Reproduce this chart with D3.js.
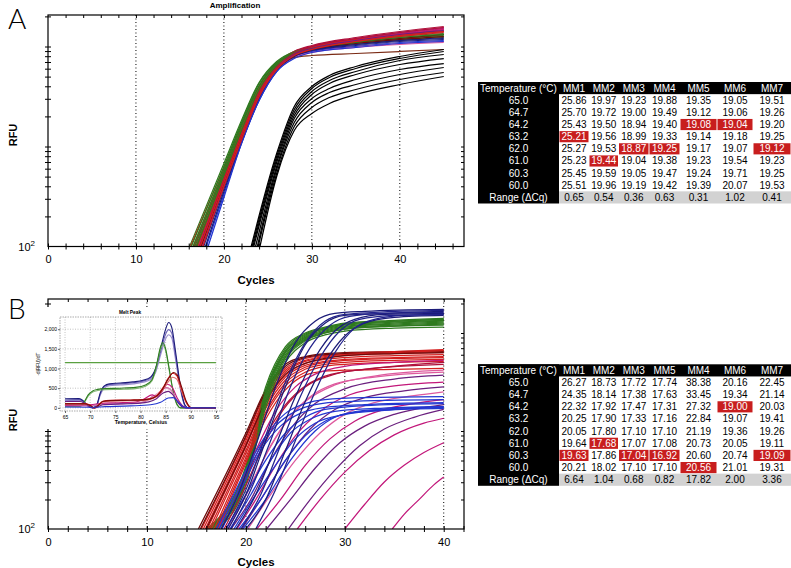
<!DOCTYPE html>
<html><head><meta charset="utf-8">
<script src="https://cdn.jsdelivr.net/npm/d3@7"></script>
<style>body{margin:0;background:#fff;} svg{display:block;font-family:"Liberation Sans",Arial,sans-serif;}</style>
</head><body><svg id="c" width="791" height="568"></svg>
<script>
// ---------- DATA ----------
const xTickLabels = [0, 10, 20, 30, 40];
const tempLabels = ["65.0","64.7","64.2","63.2","62.0","61.0","60.3","60.0"];
const headerA = ["MM1","MM2","MM3","MM4","MM5","MM6","MM7"];
const cqA = [
  [25.86,19.97,19.23,19.88,19.35,19.05,19.51],
  [25.70,19.72,19.00,19.49,19.12,19.06,19.26],
  [25.43,19.50,18.94,19.40,19.08,19.04,19.20],
  [25.21,19.56,18.99,19.33,19.14,19.18,19.25],
  [25.27,19.53,18.87,19.25,19.17,19.07,19.12],
  [25.23,19.44,19.04,19.38,19.23,19.54,19.23],
  [25.45,19.59,19.05,19.47,19.24,19.71,19.25],
  [25.51,19.96,19.19,19.42,19.39,20.07,19.53]];
const rangeA = ["0.65","0.54","0.36","0.63","0.31","1.02","0.41"];
const headerB = ["MM1","MM2","MM3","MM5","MM4","MM6","MM7"];
const cqB = [
  [26.27,18.73,17.72,17.74,38.38,20.16,22.45],
  [24.35,18.14,17.38,17.63,33.45,19.34,21.14],
  [22.32,17.92,17.47,17.31,27.32,19.00,20.03],
  [20.25,17.90,17.33,17.16,22.84,19.07,19.41],
  [20.05,17.80,17.10,17.10,21.19,19.36,19.26],
  [19.64,17.68,17.07,17.08,20.73,20.05,19.11],
  [19.63,17.86,17.04,16.92,20.60,20.74,19.09],
  [20.21,18.02,17.10,17.10,20.56,21.01,19.31]];
const rangeB = ["6.64","1.04","0.68","0.82","17.82","2.00","3.36"];

// Panel A curves: start cycle s (at 10^2), log10(RFU) at gridA cycles
const gridA = [20,22,24,26,28,30,35,40,45];
const curvesA = [
 {c:"green", s:16.1, v:[2.83,3.26,3.64,3.85,3.95,3.99,4.04,4.08,4.11]},
 {c:"red", s:16.2, v:[2.79,3.22,3.60,3.82,3.95,4.00,4.07,4.12,4.16]},
 {c:"navy", s:17.4, v:[2.62,3.08,3.50,3.77,3.91,3.97,4.02,4.06,4.09]},
 {c:"green", s:16.3, v:[2.80,3.24,3.63,3.84,3.95,3.99,4.05,4.09,4.12]},
 {c:"crimson", s:16.6, v:[2.73,3.17,3.57,3.81,3.95,4.01,4.09,4.15,4.20]},
 {c:"pink", s:17.1, v:[2.66,3.10,3.52,3.77,3.90,3.95,4.00,4.03,4.05]},
 {c:"red", s:16.5, v:[2.75,3.18,3.58,3.81,3.94,4.00,4.06,4.11,4.15]},
 {c:"blue", s:18.0, v:[2.52,3.03,3.46,3.75,3.89,3.95,4.00,4.04,4.06]},
 {c:"green", s:16.5, v:[2.77,3.22,3.61,3.83,3.94,3.98,4.03,4.07,4.10]},
 {c:"purple", s:17.2, v:[2.64,3.09,3.52,3.78,3.92,3.98,4.07,4.13,4.18]},
 {c:"darkred", s:16.9, v:[2.69,3.12,3.53,3.78,3.92,3.97,4.03,4.07,4.10]},
 {c:"magenta", s:17.0, v:[2.67,3.12,3.54,3.79,3.93,3.99,4.07,4.13,4.18]},
 {c:"navy", s:17.7, v:[2.58,3.05,3.48,3.76,3.90,3.96,4.02,4.06,4.08]},
 {c:"red", s:16.8, v:[2.71,3.15,3.56,3.80,3.93,3.99,4.06,4.11,4.15]},
 {c:"crimson", s:16.9, v:[2.70,3.14,3.55,3.80,3.94,4.00,4.08,4.14,4.19]},
 {c:"green", s:16.7, v:[2.74,3.20,3.60,3.83,3.94,3.99,4.05,4.10,4.13]},
 {c:"pink", s:17.5, v:[2.61,3.07,3.50,3.76,3.89,3.94,3.99,4.02,4.04]},
 {c:"brown", s:17.3, v:[2.64,3.09,3.52,3.78,3.89,3.91,3.93,3.95,3.97]},
 {c:"red", s:17.0, v:[2.68,3.13,3.54,3.79,3.93,3.99,4.07,4.12,4.17]},
 {c:"navy", s:17.9, v:[2.55,3.04,3.47,3.76,3.90,3.96,4.01,4.05,4.07]},
 {c:"magenta", s:17.4, v:[2.62,3.08,3.51,3.78,3.92,3.98,4.06,4.12,4.17]},
 {c:"darkred", s:17.4, v:[2.63,3.08,3.50,3.77,3.91,3.97,4.04,4.08,4.12]},
 {c:"green", s:16.9, v:[2.71,3.16,3.57,3.81,3.93,3.98,4.04,4.09,4.12]},
 {c:"crimson", s:17.2, v:[2.66,3.11,3.53,3.79,3.93,4.00,4.08,4.14,4.19]},
 {c:"blue", s:18.2, v:[2.49,3.03,3.46,3.75,3.88,3.94,3.99,4.03,4.05]},
 {c:"red", s:17.3, v:[2.64,3.10,3.52,3.78,3.92,3.98,4.05,4.10,4.14]},
 {c:"purple", s:17.6, v:[2.60,3.06,3.50,3.77,3.92,3.98,4.06,4.12,4.16]},
 {c:"red", s:17.6, v:[2.60,3.07,3.50,3.77,3.91,3.97,4.05,4.11,4.15]}
];
const gridABlack = [26,28,30,32,35,40,45];
const curvesABlack = [
 {c:"black", s:23.1, v:[2.93,3.40,3.60,3.71,3.80,3.90,3.97]},
 {c:"black", s:23.2, v:[2.90,3.37,3.58,3.69,3.78,3.88,3.95]},
 {c:"black", s:23.3, v:[2.87,3.34,3.55,3.66,3.75,3.86,3.92]},
 {c:"black", s:23.4, v:[2.84,3.31,3.52,3.63,3.72,3.82,3.88]},
 {c:"black", s:23.6, v:[2.80,3.28,3.48,3.58,3.67,3.77,3.83]},
 {c:"black", s:23.8, v:[2.77,3.24,3.44,3.54,3.62,3.72,3.79]},
 {c:"black", s:23.9, v:[2.73,3.20,3.39,3.49,3.57,3.67,3.74]},
 {c:"black", s:24.1, v:[2.70,3.16,3.33,3.43,3.52,3.62,3.70]}
];

// Panel B curves
const gridB = [20,22,24,26,28,30,35,40];
const curvesBGreenRed = [
 {c:"darkred", s:15.2, v:[2.98,3.42,3.68,3.76,3.79,3.80,3.81,3.82]},
 {c:"green", s:16.0, v:[2.64,3.45,3.86,4.00,4.06,4.10,4.13,4.15]},
 {c:"red", s:15.5, v:[2.93,3.38,3.64,3.74,3.77,3.79,3.81,3.83]},
 {c:"green", s:16.2, v:[2.62,3.42,3.84,3.99,4.05,4.09,4.12,4.14]},
 {c:"darkred", s:15.4, v:[2.95,3.40,3.66,3.75,3.78,3.79,3.80,3.81]},
 {c:"red", s:15.7, v:[2.90,3.35,3.62,3.72,3.76,3.78,3.80,3.82]},
 {c:"green", s:16.3, v:[2.60,3.40,3.82,3.98,4.04,4.08,4.11,4.13]},
 {c:"red", s:15.9, v:[2.87,3.32,3.60,3.71,3.75,3.77,3.79,3.80]},
 {c:"green", s:16.4, v:[2.59,3.39,3.81,3.97,4.05,4.09,4.12,4.14]},
 {c:"red", s:16.1, v:[2.84,3.29,3.57,3.69,3.73,3.75,3.77,3.78]},
 {c:"green", s:16.5, v:[2.57,3.37,3.80,3.96,4.03,4.07,4.10,4.12]},
 {c:"darkred", s:16.0, v:[2.85,3.30,3.58,3.69,3.74,3.77,3.79,3.80]},
 {c:"red", s:16.3, v:[2.80,3.26,3.55,3.67,3.71,3.73,3.75,3.76]},
 {c:"green", s:16.6, v:[2.55,3.35,3.78,3.95,4.02,4.06,4.09,4.11]},
 {c:"red", s:16.5, v:[2.77,3.23,3.52,3.65,3.70,3.72,3.74,3.75]},
 {c:"green", s:16.8, v:[2.52,3.32,3.76,3.94,4.01,4.05,4.08,4.10]},
 {c:"red", s:16.8, v:[2.73,3.19,3.49,3.63,3.68,3.70,3.72,3.73]},
 {c:"green", s:16.9, v:[2.50,3.30,3.75,3.93,4.00,4.04,4.07,4.09]},
 {c:"red", s:17.0, v:[2.70,3.16,3.46,3.60,3.66,3.68,3.70,3.71]},
 {c:"green", s:17.0, v:[2.49,3.28,3.73,3.92,4.00,4.04,4.07,4.08]},
 {c:"red", s:17.2, v:[2.67,3.12,3.42,3.57,3.61,3.62,3.63,3.64]},
 {c:"green", s:17.2, v:[2.45,3.24,3.70,3.90,3.98,4.02,4.05,4.06]}
];
// Explicit [cycle, log10 RFU] points
const curvesBNavy = [
 [[17.5,2],[19,2.3],[21,2.85],[23,3.45],[25,3.9],[27,4.12],[29,4.2],[32,4.22],[40,4.24]],
 [[18,2],[20,2.4],[22,2.95],[24,3.5],[26,3.9],[28,4.12],[30,4.19],[33,4.21],[40,4.23]],
 [[18.2,2],[20,2.35],[22,2.9],[24,3.45],[26,3.88],[28,4.1],[30,4.18],[34,4.2],[40,4.22]],
 [[18.5,2],[20.5,2.4],[22.5,2.9],[24.5,3.45],[26.5,3.85],[28.5,4.08],[30.5,4.17],[34,4.2],[40,4.21]],
 [[19,2],[21,2.35],[23,2.85],[25,3.35],[27,3.75],[29,4.02],[31,4.14],[34,4.19],[40,4.2]],
 [[19.5,2],[21.5,2.35],[23.5,2.85],[25.5,3.35],[27.5,3.75],[29.5,4.02],[31.5,4.14],[35,4.18],[40,4.19]],
 [[20,2],[22,2.3],[24,2.8],[26,3.3],[28,3.7],[30,3.97],[32,4.1],[35,4.16],[40,4.18]],
 [[21,2],[23,2.4],[25,2.9],[27,3.4],[29,3.8],[31,4.05],[33,4.14],[36,4.18],[40,4.19]]
];
const curvesBBlue = [
 [[17,2],[18.5,2.3],[20,2.6],[22,2.95],[24,3.18],[26,3.28],[28,3.32],[32,3.34],[40,3.35]],
 [[17.3,2],[19,2.35],[21,2.75],[23,3.05],[25,3.2],[27,3.27],[30,3.3],[40,3.32]],
 [[17.6,2],[19.5,2.4],[21.5,2.8],[23.5,3.05],[25.5,3.18],[28,3.24],[32,3.27],[40,3.29]],
 [[18,2],[20,2.35],[22,2.7],[24,2.98],[26,3.14],[28,3.22],[32,3.26],[40,3.28]],
 [[18.4,2],[20.5,2.35],[22.5,2.7],[24.5,2.98],[26.5,3.12],[29,3.2],[33,3.23],[40,3.25]],
 [[18.8,2],[21,2.35],[23,2.65],[25,2.92],[27,3.08],[30,3.17],[34,3.21],[40,3.23]],
 [[19.3,2],[21.5,2.3],[24,2.7],[26,2.95],[28,3.1],[31,3.19],[35,3.22],[40,3.24]],
 [[19.7,2],[22,2.3],[24.5,2.7],[27,3.0],[29,3.14],[32,3.21],[40,3.25]]
];
const curvesBMagenta = [
 {c:"magenta", p:[[17.2,2],[19,2.35],[21,2.8],[23,3.2],[25,3.45],[27,3.58],[30,3.66],[35,3.7],[40,3.72]]},
 {c:"crimson", p:[[17.5,2],[19.5,2.4],[21.5,2.85],[23.5,3.2],[25.5,3.42],[28,3.56],[32,3.63],[40,3.68]]},
 {c:"crimson", p:[[17.8,2],[19.8,2.4],[21.8,2.85],[23.8,3.22],[26,3.45],[29,3.58],[33,3.64],[40,3.7]]},
 {c:"pink", p:[[18,2],[20,2.35],[22,2.75],[24,3.08],[26,3.3],[29,3.47],[33,3.56],[40,3.62]]},
 {c:"pink", p:[[18.2,2],[20.3,2.4],[22.5,2.85],[24.5,3.15],[26.5,3.35],[29,3.48],[33,3.55],[40,3.6]]},
 {c:"purple", p:[[18.5,2],[20.5,2.3],[22.5,2.7],[24.5,3.02],[27,3.28],[30,3.43],[35,3.53],[40,3.57]]},
 {c:"magenta", p:[[19.1,2],[21,2.3],[23,2.65],[25,2.95],[27.5,3.2],[30.5,3.37],[35,3.46],[40,3.5]]},
 {c:"purple", p:[[19.6,2],[21.5,2.3],[24,2.7],[26.5,3.02],[29,3.22],[32,3.34],[36,3.41],[40,3.45]]},
 {c:"pink", p:[[20.2,2],[22.5,2.35],[25,2.7],[27.5,2.98],[30,3.17],[33,3.29],[37,3.36],[40,3.4]]},
 {c:"magenta", p:[[21.1,2],[23.5,2.3],[26,2.65],[28.5,2.92],[31,3.1],[34,3.22],[37,3.28],[40,3.32]]},
 {c:"purple", p:[[22.1,2],[24.5,2.3],[27,2.62],[29.5,2.88],[32,3.05],[35,3.17],[40,3.27]]},
 {c:"purple", p:[[24.3,2],[26.5,2.3],[29,2.6],[31.5,2.85],[34,3.02],[37,3.14],[40,3.22]]},
 {c:"magenta", p:[[25.2,2],[27.5,2.3],[30,2.58],[32.5,2.8],[35,2.96],[38,3.08],[40,3.13]]},
 {c:"magenta", p:[[30,2],[32,2.25],[34,2.48],[36,2.65],[38,2.78],[40,2.88]]},
 {c:"magenta", p:[[34.8,2],[36,2.15],[37.5,2.3],[39,2.45],[40,2.53]]}
];

// Inset (melt peak): [temperature, -d(RFU)/dT]
const meltThreshold = 1150;
const meltCurves = [
 {c:"#9a8fcf", p:[[65,180],[67.8,190],[68.6,140],[69.5,40],[70.5,0],[71.3,60],[72,320],[72.8,500],[73.8,560],[76,580],[78.5,610],[80.5,650],[82,720],[83,900],[84,1350],[85,1760],[85.6,1860],[86.2,1780],[87,1200],[88,420],[88.8,60],[89.5,0],[95,0]]},
 {c:"#6f64b8", p:[[65,200],[67.8,210],[68.6,160],[69.5,50],[70.5,0],[71.3,70],[72,350],[72.8,540],[73.8,590],[76,610],[78.5,640],[80.5,680],[82,760],[83,960],[84,1430],[85,1880],[85.6,1990],[86.2,1900],[87,1300],[88,460],[88.8,70],[89.5,0],[95,0]]},
 {c:"#1c1c7a", p:[[65,230],[67.8,235],[68.6,180],[69.5,60],[70.5,0],[71.3,80],[72,380],[72.8,560],[73.8,610],[76,630],[78.5,660],[80.5,700],[82,780],[83,1000],[84,1500],[85,2000],[85.6,2170],[86.2,2050],[87,1400],[88,500],[88.8,80],[89.5,0],[95,0]]},
 {c:"#7fb46f", p:[[65,30],[68,35],[68.8,130],[69.6,300],[70.5,400],[71.5,440],[73,460],[76,470],[79,490],[81,550],[82.3,690],[83.2,1050],[84,1500],[84.4,1600],[85,1450],[85.7,960],[86.5,400],[87.3,70],[88,0],[95,0]]},
 {c:"#2f7f22", p:[[65,40],[68,45],[68.8,150],[69.6,330],[70.5,430],[71.5,470],[73,490],[76,500],[79,520],[81,580],[82.3,720],[83.2,1100],[84,1560],[84.4,1660],[85,1500],[85.7,1000],[86.5,420],[87.3,80],[88,0],[95,0]]},
 {c:"#e3a3c8", p:[[65,60],[70,60],[72,90],[76,110],[80,140],[82,250],[83.5,380],[85,500],[86,440],[87,230],[88.5,30],[89.5,0],[95,0]]},
 {c:"#d070a8", p:[[65,50],[70,50],[72,80],[76,100],[80,130],[81.5,200],[82.5,300],[83.5,320],[85,520],[86,470],[87,250],[88.5,30],[89.5,0],[95,0]]},
 {c:"#c2177a", p:[[65,70],[70,80],[72,110],[75,130],[79,150],[80.8,230],[82.3,330],[83.3,280],[84.3,420],[85.3,600],[86.3,520],[87.3,250],[88.5,40],[89.3,0],[95,0]]},
 {c:"#6a1f7e", p:[[65,160],[68,160],[69,110],[70,30],[71,0],[72.5,80],[76,100],[80,120],[83,220],[84.5,380],[85.5,420],[86.5,320],[87.5,120],[88.5,10],[89,0],[95,0]]},
 {c:"#e07070", p:[[65,90],[69,90],[70,60],[70.8,0],[71.6,60],[72.5,150],[74,170],[78,180],[81,195],[82.5,240],[83.5,320],[84.5,470],[85.5,660],[86.4,780],[87.2,730],[88,480],[89,150],[90,10],[91,0],[95,0]]},
 {c:"#d41e1e", p:[[65,110],[69,110],[70,70],[70.8,0],[71.6,70],[72.5,170],[74,190],[78,200],[81,215],[82.5,260],[83.5,350],[84.5,520],[85.5,750],[86.4,880],[87.2,820],[88,550],[89,170],[90,10],[91,0],[95,0]]},
 {c:"#7a0a0a", p:[[65,100],[69,100],[70,60],[70.8,0],[71.6,60],[72.5,160],[74,185],[78,195],[81,210],[82.5,250],[83.5,330],[84.5,500],[85.5,730],[86.6,900],[87.3,840],[88.1,560],[89.1,170],[90,10],[91,0],[95,0]]},
 {c:"#2236d0", p:[[65,20],[70,15],[73,30],[78,50],[82,80],[84,140],[85.5,250],[86.5,260],[87.5,150],[88.5,30],[89.5,0],[95,0]]}
];
const meltXTicks = [65,70,75,80,85,90,95];
const meltYTicks = [0,500,1000,1500,2000];

// ---------- DRAW ----------
const colors = {green:"#2f7a1f", red:"#d41e1e", darkred:"#6e0a0a", crimson:"#b0103c", magenta:"#c2177a",
  pink:"#de5a9e", purple:"#6a1f7e", navy:"#1c1c78", blue:"#2236d0", brown:"#7a2a14", black:"#000"};
const svg = d3.select("#c");
const defs = svg.append("defs");

function gridToPoints(grid, cur){
  const pts = [[cur.s, 2]];
  grid.forEach((c,i)=>{ if (c > cur.s) pts.push([c, cur.v[i]]); });
  return pts;
}

function drawPanel(p){
  const x = d3.scaleLinear().domain([0, p.xmax]).range([p.left, p.right]);
  const y = d3.scaleLog().domain([100, Math.pow(10, p.ymaxLog)]).range([p.bottom, p.top]);
  const g = svg.append("g");
  defs.append("clipPath").attr("id", "clip"+p.name).append("rect")
    .attr("x", p.left).attr("y", p.top).attr("width", p.right-p.left).attr("height", p.bottom-p.top);
  g.selectAll("line.grid").data([10,20,30,40]).join("line")
    .attr("x1", d=>x(d)).attr("x2", d=>x(d)).attr("y1", p.top).attr("y2", p.bottom)
    .attr("stroke", "#000").attr("stroke-width", 1).attr("stroke-dasharray", "1,2.5");
  const line = d3.line().x(d=>x(d[0])).y(d=>y(Math.pow(10, d[1]))).curve(d3.curveMonotoneX);
  const cg = g.append("g").attr("clip-path", `url(#clip${p.name})`).attr("fill","none").attr("stroke-width",1.25);
  p.series.forEach(s => {
    cg.append("path").attr("d", line(s.pts)).attr("stroke", s.color);
  });
  const yTicks = y.ticks().filter(v => v > 100);
  const xTicks = d3.range(0, p.xmax, 2);
  const bx = g.append("g").attr("transform", `translate(0,${p.bottom})`)
    .call(d3.axisBottom(x).tickValues(xTicks).tickSize(3).tickFormat(d => xTickLabels.includes(d) ? d : ""));
  bx.select(".domain").remove();
  bx.selectAll(".tick line").attr("y1", -3).attr("y2", 3);
  bx.selectAll(".tick text").attr("y", 9).attr("font-size", 11).attr("font-family", "Liberation Sans, Arial, sans-serif");
  const tx = g.append("g").attr("transform", `translate(0,${p.top})`)
    .call(d3.axisTop(x).tickValues(xTicks.filter(d=>d>0)).tickSize(-3).tickFormat(""));
  tx.select(".domain").remove();
  const ly = g.append("g").attr("transform", `translate(${p.left},0)`)
    .call(d3.axisLeft(y).tickValues(yTicks).tickSize(3).tickFormat(""));
  ly.select(".domain").remove();
  ly.selectAll(".tick line").attr("x1", -3).attr("x2", 3);
  const ry = g.append("g").attr("transform", `translate(${p.right},0)`)
    .call(d3.axisRight(y).tickValues(yTicks).tickSize(-3).tickFormat(""));
  ry.select(".domain").remove();
  g.append("rect").attr("x", p.left).attr("y", p.top).attr("width", p.right-p.left).attr("height", p.bottom-p.top)
    .attr("fill","none").attr("stroke","#000").attr("stroke-width",1.2);
  const lab = g.append("text").attr("x", p.left-13).attr("y", p.bottom+4).attr("text-anchor","end").attr("font-size", 11);
  lab.append("tspan").text("10");
  lab.append("tspan").attr("dy", -5).attr("font-size", 8).text("2");
  g.append("text").attr("x", 256).attr("y", p.bottom+37).attr("text-anchor","middle")
    .attr("font-size", 11.5).attr("font-weight","bold").text("Cycles");
  g.append("text").attr("transform", `translate(17,${p.rfuY}) rotate(-90)`).attr("text-anchor","middle")
    .attr("font-size", 11).attr("font-weight","bold").text("RFU");
  g.append("text").attr("x", 8).attr("y", p.letterY).attr("font-size", 28).attr("font-weight", 300)
    .attr("font-family","Lato, Liberation Sans, sans-serif").text(p.name);
  return {x, y, g};
}

// Panel A
const seriesA = [];
curvesA.forEach(c => seriesA.push({color: colors[c.c], pts: gridToPoints(gridA, c)}));
curvesABlack.forEach(c => seriesA.push({color: colors.black, pts: gridToPoints(gridABlack, c)}));
drawPanel({name:"A", left:48, right:464, top:15, bottom:246.5, xmax:47.3, ymaxLog:4.315,
  series: seriesA, rfuY:135, letterY:29});
svg.append("text").attr("x", 235).attr("y", 8).attr("text-anchor","middle").attr("font-size", 8)
  .attr("font-weight","bold").text("Amplification");

// Panel B
const seriesB = [];
curvesBGreenRed.forEach(c => seriesB.push({color: colors[c.c], pts: gridToPoints(gridB, c)}));
curvesBMagenta.forEach(c => seriesB.push({color: colors[c.c], pts: c.p}));
curvesBBlue.forEach(pts => seriesB.push({color: colors.blue, pts}));
curvesBNavy.forEach((pts,i) => seriesB.push({color: i%2 ? "#23238c" : colors.navy, pts}));
drawPanel({name:"B", left:48, right:464, top:299, bottom:529, xmax:42.05, ymaxLog:4.347,
  series: seriesB, rfuY:420, letterY:319});

// Inset
(function(){
  const L=60, R=222, T=317, B=411;
  const ig = svg.append("g");
  ig.append("rect").attr("x", 31).attr("y", 307).attr("width", 195).attr("height", 122).attr("fill","#fff");
  const x = d3.scaleLinear().domain([64, 96.2]).range([L, R]);
  const y = d3.scaleLinear().domain([-80, 2310]).range([B, T]);
  ig.selectAll("line.vg").data(meltXTicks).join("line").attr("x1",d=>x(d)).attr("x2",d=>x(d))
    .attr("y1",T).attr("y2",B).attr("stroke","#999").attr("stroke-width",0.6).attr("stroke-dasharray","1,1.5");
  ig.selectAll("line.hg").data(meltYTicks).join("line").attr("y1",d=>y(d)).attr("y2",d=>y(d))
    .attr("x1",L).attr("x2",R).attr("stroke","#999").attr("stroke-width",0.6).attr("stroke-dasharray","1,1.5");
  ig.append("rect").attr("x",L).attr("y",T).attr("width",R-L).attr("height",B-T)
    .attr("fill","none").attr("stroke","#888").attr("stroke-width",0.7).attr("stroke-dasharray","1.5,1");
  ig.append("line").attr("x1", x(65)).attr("x2", x(95)).attr("y1", y(meltThreshold)).attr("y2", y(meltThreshold))
    .attr("stroke","#5aa040").attr("stroke-width",1.3);
  const line = d3.line().x(d=>x(d[0])).y(d=>y(d[1])).curve(d3.curveMonotoneX);
  meltCurves.forEach(c => ig.append("path").attr("d", line(c.p)).attr("fill","none").attr("stroke", c.c).attr("stroke-width",1.1));
  const ax = ig.append("g").attr("transform",`translate(0,${B})`).call(d3.axisBottom(x).tickValues(meltXTicks).tickSize(2));
  ax.select(".domain").remove();
  ax.selectAll("text").attr("font-size",5).attr("y",4);
  ax.selectAll("line").attr("stroke","#666");
  const ay = ig.append("g").attr("transform",`translate(${L},0)`).call(d3.axisLeft(y).tickValues(meltYTicks).tickSize(2));
  ay.select(".domain").remove();
  ay.selectAll("text").attr("font-size",5).attr("x",-3);
  ay.selectAll("line").attr("stroke","#666");
  ig.append("text").attr("x",(L+R)/2).attr("y",424).attr("text-anchor","middle").attr("font-size",5.2).attr("font-weight","bold").text("Temperature, Celsius");
  ig.append("text").attr("x",130).attr("y",314).attr("text-anchor","middle").attr("font-size",4.8).attr("font-weight","bold").text("Melt Peak");
  ig.append("text").attr("transform",`translate(40,${(T+B)/2}) rotate(-90)`).attr("text-anchor","middle").attr("font-size",4.5).text("-d(RFU)/dT");
})();

// Tables
function drawTable(top, header, rows, range){
  const colX = [478,559,589,618.5,649,680,717,753,791];
  const rh = 12.15;
  const tg = svg.append("g").attr("font-size", 10);
  const nRows = rows.length + 2;
  const mins = header.map((h,j) => d3.min(rows, r => r[j]));
  tg.append("rect").attr("x", colX[0]).attr("y", top).attr("width", colX[8]-colX[0]).attr("height", rh).attr("fill","#000");
  tg.append("rect").attr("x", colX[0]).attr("y", top).attr("width", colX[1]-colX[0]).attr("height", rh*nRows).attr("fill","#000");
  tg.append("rect").attr("x", colX[1]).attr("y", top+rh*(nRows-1)).attr("width", colX[8]-colX[1]).attr("height", rh).attr("fill","#d2d2d2");
  tg.append("text").attr("x", colX[0]+2).attr("y", top+rh/2).attr("dy","0.35em").attr("fill","#fff").text("Temperature (°C)");
  header.forEach((h,j) => tg.append("text").attr("x",(colX[j+1]+colX[j+2])/2).attr("y",top+rh/2).attr("dy","0.35em")
    .attr("text-anchor","middle").attr("fill","#fff").text(h));
  rows.forEach((r,i) => {
    const yy = top + rh*(i+1);
    tg.append("text").attr("x",(colX[0]+colX[1])/2).attr("y",yy+rh/2).attr("dy","0.35em").attr("text-anchor","middle").attr("fill","#fff").text(tempLabels[i]);
    r.forEach((v,j) => {
      const hi = v === mins[j];
      if (hi) tg.append("rect").attr("x", colX[j+1]+0.5).attr("y", yy+0.5).attr("width", colX[j+2]-colX[j+1]-1).attr("height", rh-1).attr("fill","#c81e1e");
      tg.append("text").attr("x",(colX[j+1]+colX[j+2])/2).attr("y",yy+rh/2).attr("dy","0.35em").attr("text-anchor","middle")
        .attr("fill", hi ? "#fff" : "#000").text(v.toFixed(2));
    });
  });
  const yr = top + rh*(nRows-1);
  tg.append("text").attr("x",(colX[0]+colX[1])/2).attr("y",yr+rh/2).attr("dy","0.35em").attr("text-anchor","middle").attr("fill","#fff").text("Range (ΔCq)");
  range.forEach((v,j) => tg.append("text").attr("x",(colX[j+1]+colX[j+2])/2).attr("y",yr+rh/2).attr("dy","0.35em").attr("text-anchor","middle").text(v));
}
drawTable(82, headerA, cqA, rangeA);
drawTable(364.3, headerB, cqB, rangeB);
</script></body></html>
